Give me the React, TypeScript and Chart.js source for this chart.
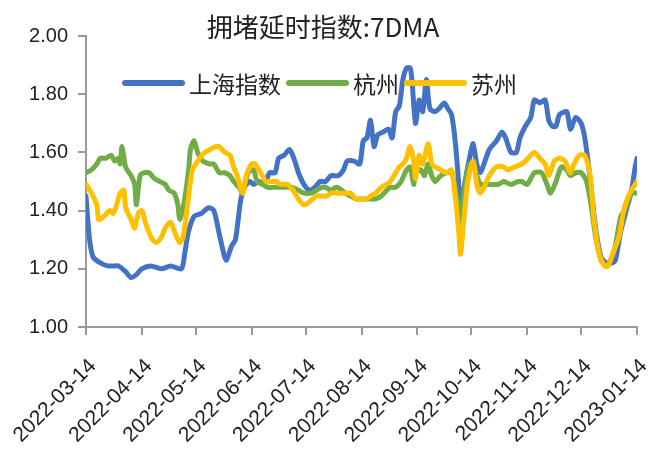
import React, { useEffect, useRef } from "react";
import { Chart, registerables } from "chart.js";

Chart.register(...registerables);

const titleText = "拥堵延时指数:7DMA";
const seriesNames = ["上海指数", "杭州", "苏州"];
const seriesColors = ["#4472C4", "#70AD47", "#FFC000"];

const tickDays = [0, 31, 61, 92, 122, 153, 184, 214, 245, 275, 306];
const tickLabels = [
  "2022-03-14", "2022-04-14", "2022-05-14", "2022-06-14", "2022-07-14", "2022-08-14",
  "2022-09-14", "2022-10-14", "2022-11-14", "2022-12-14", "2023-01-14",
];

const shDays = [0, 2, 4, 8, 12, 16, 18, 22, 25, 28, 31, 36, 42, 47, 53, 55, 57, 60, 64, 68, 71, 74, 77, 78, 81, 83, 86, 88, 91, 93, 96, 99, 102, 105, 107, 110, 113, 116, 118, 121, 124, 127, 130, 133, 136, 140, 143, 145, 149, 152, 154, 156, 158, 160, 162, 165, 168, 170, 172, 174, 176, 178, 180, 181, 183, 185, 187, 189, 191, 194, 196, 199, 201, 203, 205, 207, 208, 210, 213, 215, 217, 219, 221, 224, 228, 231, 233, 236, 239, 241, 244, 247, 249, 252, 255, 257, 259, 261, 263, 267, 269, 272, 275, 277, 279, 281, 283, 286, 289, 292, 294, 297, 300, 303, 305, 306];
const shValues = [1.45, 1.30, 1.24, 1.22, 1.21, 1.21, 1.21, 1.19, 1.17, 1.18, 1.20, 1.21, 1.20, 1.21, 1.20, 1.26, 1.33, 1.38, 1.39, 1.41, 1.40, 1.32, 1.24, 1.23, 1.28, 1.30, 1.44, 1.48, 1.50, 1.49, 1.50, 1.49, 1.53, 1.53, 1.58, 1.59, 1.61, 1.57, 1.53, 1.49, 1.47, 1.48, 1.50, 1.50, 1.52, 1.52, 1.54, 1.57, 1.57, 1.56, 1.64, 1.65, 1.71, 1.62, 1.66, 1.67, 1.68, 1.65, 1.74, 1.76, 1.85, 1.89, 1.89, 1.85, 1.70, 1.78, 1.74, 1.85, 1.75, 1.74, 1.75, 1.77, 1.75, 1.73, 1.64, 1.49, 1.38, 1.48, 1.58, 1.63, 1.56, 1.53, 1.56, 1.61, 1.64, 1.67, 1.65, 1.60, 1.60, 1.65, 1.69, 1.72, 1.78, 1.77, 1.78, 1.71, 1.69, 1.69, 1.73, 1.74, 1.68, 1.72, 1.70, 1.65, 1.56, 1.45, 1.34, 1.24, 1.22, 1.22, 1.23, 1.33, 1.40, 1.47, 1.55, 1.58];

const hzDays = [0, 3, 6, 8, 11, 14, 16, 18, 19, 20, 22, 25, 27, 28, 30, 32, 35, 38, 41, 44, 46, 49, 51, 52, 54, 57, 58, 60, 62, 65, 69, 71, 74, 77, 80, 82, 85, 87, 90, 93, 95, 98, 101, 104, 107, 110, 114, 118, 121, 125, 128, 131, 133, 136, 139, 142, 144, 147, 150, 153, 156, 158, 161, 164, 167, 169, 172, 175, 178, 180, 182, 183, 186, 188, 190, 192, 194, 197, 200, 203, 205, 207, 208, 210, 213, 215, 217, 219, 221, 225, 229, 232, 236, 240, 242, 245, 249, 253, 256, 258, 261, 264, 267, 269, 272, 275, 278, 281, 283, 286, 289, 292, 294, 297, 300, 303, 306];
const hzValues = [1.53, 1.54, 1.56, 1.58, 1.58, 1.59, 1.57, 1.58, 1.56, 1.62, 1.55, 1.52, 1.49, 1.42, 1.52, 1.53, 1.53, 1.51, 1.50, 1.49, 1.47, 1.46, 1.42, 1.37, 1.41, 1.54, 1.61, 1.64, 1.60, 1.57, 1.56, 1.56, 1.53, 1.53, 1.52, 1.50, 1.48, 1.46, 1.53, 1.54, 1.50, 1.49, 1.48, 1.48, 1.48, 1.48, 1.48, 1.47, 1.46, 1.46, 1.47, 1.48, 1.48, 1.47, 1.48, 1.47, 1.46, 1.45, 1.44, 1.44, 1.44, 1.44, 1.44, 1.45, 1.47, 1.48, 1.48, 1.50, 1.54, 1.55, 1.49, 1.53, 1.54, 1.52, 1.56, 1.52, 1.50, 1.52, 1.53, 1.53, 1.48, 1.41, 1.36, 1.47, 1.56, 1.56, 1.52, 1.49, 1.49, 1.49, 1.49, 1.50, 1.49, 1.50, 1.50, 1.49, 1.53, 1.53, 1.49, 1.46, 1.50, 1.55, 1.54, 1.52, 1.53, 1.53, 1.50, 1.40, 1.31, 1.23, 1.21, 1.24, 1.28, 1.38, 1.41, 1.46, 1.46];

const szDays = [0, 3, 6, 7, 10, 13, 15, 17, 19, 21, 22, 25, 27, 29, 31, 33, 36, 39, 42, 44, 47, 49, 52, 54, 57, 59, 61, 63, 66, 69, 72, 74, 77, 80, 82, 84, 87, 89, 92, 94, 97, 100, 103, 106, 108, 112, 115, 118, 121, 124, 128, 131, 134, 136, 139, 142, 145, 147, 150, 153, 156, 158, 161, 164, 167, 169, 172, 174, 176, 178, 180, 182, 183, 185, 187, 190, 192, 194, 197, 200, 203, 205, 207, 208, 210, 212, 215, 217, 219, 221, 224, 228, 232, 234, 238, 242, 244, 247, 249, 252, 255, 257, 260, 263, 266, 269, 271, 274, 277, 280, 282, 285, 288, 290, 293, 296, 299, 302, 305, 306];
const szValues = [1.49, 1.46, 1.42, 1.37, 1.38, 1.40, 1.39, 1.42, 1.46, 1.47, 1.41, 1.37, 1.34, 1.39, 1.40, 1.36, 1.31, 1.29, 1.31, 1.34, 1.36, 1.33, 1.29, 1.31, 1.45, 1.54, 1.56, 1.58, 1.60, 1.61, 1.62, 1.62, 1.60, 1.59, 1.55, 1.52, 1.46, 1.52, 1.56, 1.56, 1.53, 1.50, 1.50, 1.50, 1.49, 1.49, 1.47, 1.44, 1.42, 1.43, 1.45, 1.45, 1.45, 1.46, 1.46, 1.46, 1.46, 1.46, 1.44, 1.44, 1.44, 1.45, 1.46, 1.48, 1.49, 1.50, 1.53, 1.55, 1.56, 1.58, 1.62, 1.57, 1.51, 1.59, 1.56, 1.63, 1.56, 1.55, 1.54, 1.53, 1.54, 1.45, 1.33, 1.25, 1.38, 1.50, 1.57, 1.49, 1.46, 1.48, 1.52, 1.55, 1.55, 1.54, 1.55, 1.56, 1.57, 1.59, 1.60, 1.58, 1.56, 1.52, 1.57, 1.58, 1.57, 1.53, 1.56, 1.59, 1.59, 1.52, 1.38, 1.25, 1.21, 1.21, 1.26, 1.31, 1.41, 1.46, 1.49, 1.50];

const toPoints = (days: number[], vals: number[]) => days.map((d, i) => ({ x: d, y: vals[i] }));

const overlayPlugin = {
  id: "overlay",
  afterDatasetsDraw(chart: any) {
    const ctx = chart.ctx;
    ctx.save();
    // title
    ctx.fillStyle = "#222";
    ctx.font = '26px "Noto Sans CJK SC"';
    ctx.textAlign = "center";
    ctx.textBaseline = "middle";
    ctx.fillText(titleText, 315, 19);
    // legend
    ctx.font = '23px "Noto Sans CJK SC"';
    ctx.textAlign = "left";
    let x = 117;
    const y = 75;
    chart.data.datasets.forEach((ds: any) => {
      ctx.strokeStyle = ds.borderColor;
      ctx.lineWidth = 6;
      ctx.lineCap = "round";
      ctx.beginPath();
      ctx.moveTo(x, y);
      ctx.lineTo(x + 57, y);
      ctx.stroke();
      ctx.fillStyle = "#222";
      ctx.fillText(ds.label, x + 64, y + 1);
      x = x + 64 + ctx.measureText(ds.label).width + 8;
    });
    ctx.restore();
  },
};

export default function App() {
  const ref = useRef<HTMLCanvasElement>(null);
  useEffect(() => {
    if (!ref.current) return;
    const mk = (i: number, days: number[], vals: number[], order: number) => ({
      label: seriesNames[i],
      data: toPoints(days, vals),
      borderColor: seriesColors[i],
      backgroundColor: seriesColors[i],
      borderWidth: 5,
      pointRadius: 0,
      tension: 0.25,
      borderJoinStyle: "round" as const,
      borderCapStyle: "round" as const,
      order,
    });
    const chart = new Chart(ref.current, {
      type: "line",
      data: {
        datasets: [mk(0, shDays, shValues, 3), mk(1, hzDays, hzValues, 2), mk(2, szDays, szValues, 1)],
      },
      plugins: [overlayPlugin],
      options: {
        animation: false,
        responsive: true,
        maintainAspectRatio: false,
        layout: { padding: { top: 28, right: 15, left: 0, bottom: 0 } },
        plugins: { legend: { display: false }, title: { display: false }, tooltip: { enabled: false } },
        scales: {
          x: {
            type: "linear",
            min: 0,
            max: 306,
            afterBuildTicks: (scale: any) => {
              scale.ticks = tickDays.map((v) => ({ value: v }));
            },
            afterFit: (scale: any) => {
              scale.height = 115;
              scale.paddingLeft = 0;
              scale.paddingRight = 0;
            },
            ticks: {
              autoSkip: false,
              minRotation: 45,
              maxRotation: 45,
              color: "#222",
              font: { family: "Liberation Sans", size: 21 },
              padding: 19,
              labelOffset: 7,
              callback: (v: any) => {
                const idx = tickDays.indexOf(Number(v));
                return idx >= 0 ? tickLabels[idx] : "";
              },
            },
            grid: { display: true, drawOnChartArea: false, drawTicks: true, tickLength: 8, color: "#999", lineWidth: 2 },
            border: { display: true, color: "#999", width: 2 },
          },
          y: {
            min: 1,
            max: 2,
            afterFit: (scale: any) => {
              scale.width = 78;
              scale.paddingTop = 0;
              scale.paddingBottom = 0;
            },
            ticks: {
              stepSize: 0.2,
              color: "#222",
              font: { family: "Liberation Sans", size: 20 },
              padding: 10,
              callback: (v: any) => Number(v).toFixed(2),
            },
            grid: { display: true, drawOnChartArea: false, drawTicks: true, tickLength: 8, color: "#999", lineWidth: 2 },
            border: { display: true, color: "#999", width: 2 },
          },
        },
      },
    });
    return () => chart.destroy();
  }, []);
  return (
    <div style={{ width: 644, height: 434, position: "relative" }}>
      <canvas ref={ref} />
    </div>
  );
}
